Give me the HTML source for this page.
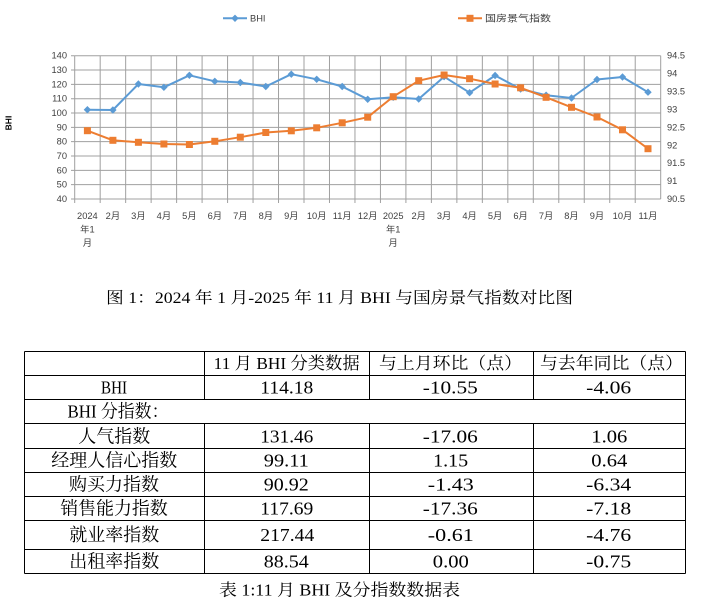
<!DOCTYPE html>
<html>
<head>
<meta charset="utf-8">
<style>
html,body{margin:0;padding:0;background:#fff;}
body{width:704px;height:610px;overflow:hidden;}
svg{display:block;}
.ax{font-family:"Liberation Sans","Noto Sans CJK SC",sans-serif;font-size:9.3px;fill:#404040;}
.tb{font-family:"Liberation Serif","Noto Serif CJK SC",serif;fill:#000;}
</style>
</head>
<body>
<svg width="704" height="610" viewBox="0 0 704 610" xmlns="http://www.w3.org/2000/svg">
<!-- Legend -->
<line x1="223" y1="18.3" x2="247" y2="18.3" stroke="#5b9bd5" stroke-width="2"/>
<polygon points="235,14.6 238.7,18.3 235,22 231.3,18.3" fill="#5b9bd5"/>
<text class="ax" x="250" y="18.3" dominant-baseline="central" font-size="9px">BHI</text>
<line x1="458" y1="18.3" x2="482" y2="18.3" stroke="#ed7d31" stroke-width="2"/>
<rect x="466.5" y="14.8" width="7" height="7" fill="#ed7d31"/>
<text class="ax" x="485" y="18.3" dominant-baseline="central" font-size="10.5px" textLength="66" lengthAdjust="spacingAndGlyphs">国房景气指数</text>

<!-- Y axis title -->
<text x="8.3" y="123" transform="rotate(-90 8.3 123)" text-anchor="middle" dominant-baseline="central" style="font-family:'Liberation Sans',sans-serif;font-size:8.5px;font-weight:bold;fill:#000;">BHI</text>

<!-- Grid -->
<g stroke="#a0a0a0" stroke-width="1" fill="none">
<path d="M74.7 55.7H660.7M74.7 70.03H660.7M74.7 84.36H660.7M74.7 98.69H660.7M74.7 113.02H660.7M74.7 127.35H660.7M74.7 141.68H660.7M74.7 156.01H660.7M74.7 170.34H660.7M74.7 184.67H660.7M74.7 199H660.7"/>
<path d="M74.7 55.7V203M100.18 55.7V203M125.66 55.7V203M151.13 55.7V203M176.61 55.7V203M202.09 55.7V203M227.57 55.7V203M253.05 55.7V203M278.52 55.7V203M304 55.7V203M329.48 55.7V203M354.96 55.7V203M380.44 55.7V203M405.91 55.7V203M431.39 55.7V203M456.87 55.7V203M482.35 55.7V203M507.83 55.7V203M533.3 55.7V203M558.78 55.7V203M584.26 55.7V203M609.74 55.7V203M635.22 55.7V203M660.7 55.7V199"/>
<path d="M71 55.7H74.7M71 70.03H74.7M71 84.36H74.7M71 98.69H74.7M71 113.02H74.7M71 127.35H74.7M71 141.68H74.7M71 156.01H74.7M71 170.34H74.7M71 184.67H74.7M71 199H74.7"/>
</g>

<!-- Left labels -->
<g class="ax" text-anchor="end" dominant-baseline="central">
<text x="67" y="55.7">140</text>
<text x="67" y="70.03">130</text>
<text x="67" y="84.36">120</text>
<text x="67" y="98.69">110</text>
<text x="67" y="113.02">100</text>
<text x="67" y="127.35">90</text>
<text x="67" y="141.68">80</text>
<text x="67" y="156.01">70</text>
<text x="67" y="170.34">60</text>
<text x="67" y="184.67">50</text>
<text x="67" y="199">40</text>
</g>
<!-- Right labels -->
<g class="ax" text-anchor="start" dominant-baseline="central">
<text x="667" y="55.7">94.5</text>
<text x="667" y="73.61">94</text>
<text x="667" y="91.53">93.5</text>
<text x="667" y="109.44">93</text>
<text x="667" y="127.35">92.5</text>
<text x="667" y="145.26">92</text>
<text x="667" y="163.18">91.5</text>
<text x="667" y="181.09">91</text>
<text x="667" y="199">90.5</text>
</g>

<!-- X labels -->
<g class="ax" text-anchor="middle" dominant-baseline="central">
<text x="87.4" y="216">2024</text><text x="87.4" y="229.5">年1</text><text x="87.4" y="243">月</text>
<text x="112.9" y="216">2月</text>
<text x="138.4" y="216">3月</text>
<text x="163.9" y="216">4月</text>
<text x="189.4" y="216">5月</text>
<text x="214.8" y="216">6月</text>
<text x="240.3" y="216">7月</text>
<text x="265.8" y="216">8月</text>
<text x="291.3" y="216">9月</text>
<text x="316.7" y="216">10月</text>
<text x="342.2" y="216">11月</text>
<text x="367.7" y="216">12月</text>
<text x="393.2" y="216">2025</text><text x="393.2" y="229.5">年1</text><text x="393.2" y="243">月</text>
<text x="418.7" y="216">2月</text>
<text x="444.1" y="216">3月</text>
<text x="469.6" y="216">4月</text>
<text x="495.1" y="216">5月</text>
<text x="520.6" y="216">6月</text>
<text x="546.1" y="216">7月</text>
<text x="571.5" y="216">8月</text>
<text x="597" y="216">9月</text>
<text x="622.5" y="216">10月</text>
<text x="648" y="216">11月</text>
</g>

<!-- BHI series -->
<polyline fill="none" stroke="#5b9bd5" stroke-width="2" stroke-linejoin="round" points="87.4,109.7 112.9,110 138.4,84 163.9,87.3 189.4,75.3 214.8,81.3 240.3,82.5 265.8,86.5 291.3,74.2 316.7,79.3 342.2,86.5 367.7,99.3 393.2,97.3 418.7,99 444.1,76.7 469.6,92.7 495.1,75.5 520.6,89 546.1,95.2 571.5,98 597,79.5 622.5,77 648,92.2"/>
<g fill="#5b9bd5">
<polygon points="87.4,106 91.1,109.7 87.4,113.4 83.7,109.7"/>
<polygon points="112.9,106.3 116.6,110 112.9,113.7 109.2,110"/>
<polygon points="138.4,80.3 142.1,84 138.4,87.7 134.7,84"/>
<polygon points="163.9,83.6 167.6,87.3 163.9,91 160.2,87.3"/>
<polygon points="189.4,71.6 193.1,75.3 189.4,79 185.7,75.3"/>
<polygon points="214.8,77.6 218.5,81.3 214.8,85 211.1,81.3"/>
<polygon points="240.3,78.8 244,82.5 240.3,86.2 236.6,82.5"/>
<polygon points="265.8,82.8 269.5,86.5 265.8,90.2 262.1,86.5"/>
<polygon points="291.3,70.5 295,74.2 291.3,77.9 287.6,74.2"/>
<polygon points="316.7,75.6 320.4,79.3 316.7,83 313,79.3"/>
<polygon points="342.2,82.8 345.9,86.5 342.2,90.2 338.5,86.5"/>
<polygon points="367.7,95.6 371.4,99.3 367.7,103 364,99.3"/>
<polygon points="393.2,93.6 396.9,97.3 393.2,101 389.5,97.3"/>
<polygon points="418.7,95.3 422.4,99 418.7,102.7 415,99"/>
<polygon points="444.1,73 447.8,76.7 444.1,80.4 440.4,76.7"/>
<polygon points="469.6,89 473.3,92.7 469.6,96.4 465.9,92.7"/>
<polygon points="495.1,71.8 498.8,75.5 495.1,79.2 491.4,75.5"/>
<polygon points="520.6,85.3 524.3,89 520.6,92.7 516.9,89"/>
<polygon points="546.1,91.5 549.8,95.2 546.1,98.9 542.4,95.2"/>
<polygon points="571.5,94.3 575.2,98 571.5,101.7 567.8,98"/>
<polygon points="597,75.8 600.7,79.5 597,83.2 593.3,79.5"/>
<polygon points="622.5,73.3 626.2,77 622.5,80.7 618.8,77"/>
<polygon points="648,88.5 651.7,92.2 648,95.9 644.3,92.2"/>
</g>

<!-- 国房景气指数 series -->
<polyline fill="none" stroke="#ed7d31" stroke-width="2" stroke-linejoin="round" points="87.4,130.7 112.9,140.3 138.4,142.3 163.9,144 189.4,144.5 214.8,141.3 240.3,137.2 265.8,132.5 291.3,130.8 316.7,127.8 342.2,122.8 367.7,117.2 393.2,96.7 418.7,80.7 444.1,75 469.6,78.7 495.1,84 520.6,87.8 546.1,97.3 571.5,107.3 597,117 622.5,129.8 648,148.7"/>
<g fill="#ed7d31">
<rect x="83.9" y="127.2" width="7" height="7"/>
<rect x="109.4" y="136.8" width="7" height="7"/>
<rect x="134.9" y="138.8" width="7" height="7"/>
<rect x="160.4" y="140.5" width="7" height="7"/>
<rect x="185.9" y="141" width="7" height="7"/>
<rect x="211.3" y="137.8" width="7" height="7"/>
<rect x="236.8" y="133.7" width="7" height="7"/>
<rect x="262.3" y="129" width="7" height="7"/>
<rect x="287.8" y="127.3" width="7" height="7"/>
<rect x="313.2" y="124.3" width="7" height="7"/>
<rect x="338.7" y="119.3" width="7" height="7"/>
<rect x="364.2" y="113.7" width="7" height="7"/>
<rect x="389.7" y="93.2" width="7" height="7"/>
<rect x="415.2" y="77.2" width="7" height="7"/>
<rect x="440.6" y="71.5" width="7" height="7"/>
<rect x="466.1" y="75.2" width="7" height="7"/>
<rect x="491.6" y="80.5" width="7" height="7"/>
<rect x="517.1" y="84.3" width="7" height="7"/>
<rect x="542.6" y="93.8" width="7" height="7"/>
<rect x="568" y="103.8" width="7" height="7"/>
<rect x="593.5" y="113.5" width="7" height="7"/>
<rect x="619" y="126.3" width="7" height="7"/>
<rect x="644.5" y="145.2" width="7" height="7"/>
</g>

<!-- Figure caption -->
<text class="tb" x="106" y="298.3" dominant-baseline="central" font-size="16px" textLength="467" lengthAdjust="spacingAndGlyphs">图 1：2024 年 1 月-2025 年 11 月 BHI 与国房景气指数对比图</text>

<!-- Table grid -->
<g stroke="#000" stroke-width="1" fill="none">
<path d="M24.5 351.5H685.5M24.5 375.5H685.5M24.5 399.5H685.5M24.5 423.5H685.5M24.5 448.5H685.5M24.5 472.5H685.5M24.5 496.5H685.5M24.5 520.5H685.5M24.5 549.5H685.5M24.5 573.5H685.5"/>
<path d="M24.5 351.5V573.5M685.5 351.5V573.5"/>
<path d="M204.5 351.5V399.5M369.5 351.5V399.5M533.5 351.5V399.5"/>
<path d="M204.5 423.5V573.5M369.5 423.5V573.5M533.5 423.5V573.5"/>
</g>

<!-- Table header -->
<g class="tb" dominant-baseline="central" font-size="17px">
<text x="286.7" y="363.6" text-anchor="middle" textLength="146" lengthAdjust="spacingAndGlyphs">11 月 BHI 分类数据</text>
<text x="379" y="363.6" textLength="143" lengthAdjust="spacingAndGlyphs">与上月环比（点）</text>
<text x="540" y="363.6" textLength="143" lengthAdjust="spacingAndGlyphs">与去年同比（点）</text>
</g>

<!-- Table body col 1 -->
<g class="tb" dominant-baseline="central" font-size="18px" text-anchor="middle">
<text x="114" y="387.4" textLength="26" lengthAdjust="spacingAndGlyphs">BHI</text>
<text x="114.3" y="436.3" textLength="72" lengthAdjust="spacingAndGlyphs">人气指数</text>
<text x="114.3" y="460.5" textLength="126" lengthAdjust="spacingAndGlyphs">经理人信心指数</text>
<text x="114" y="484.4" textLength="90" lengthAdjust="spacingAndGlyphs">购买力指数</text>
<text x="114" y="508.4" textLength="107.5" lengthAdjust="spacingAndGlyphs">销售能力指数</text>
<text x="114.3" y="535" textLength="90" lengthAdjust="spacingAndGlyphs">就业率指数</text>
<text x="114.3" y="561.3" textLength="90" lengthAdjust="spacingAndGlyphs">出租率指数</text>
</g>
<text class="tb" x="67.5" y="411.7" dominant-baseline="central" font-size="18px" textLength="101" lengthAdjust="spacingAndGlyphs">BHI 分指数：</text>

<!-- Table body col 2 -->
<g class="tb" dominant-baseline="central" font-size="18px" text-anchor="middle">
<text x="286.8" y="387.4" textLength="53" lengthAdjust="spacingAndGlyphs">114.18</text>
<text x="286.8" y="436.3" textLength="53" lengthAdjust="spacingAndGlyphs">131.46</text>
<text x="286.3" y="460.5" textLength="45" lengthAdjust="spacingAndGlyphs">99.11</text>
<text x="286.3" y="484.4" textLength="45" lengthAdjust="spacingAndGlyphs">90.92</text>
<text x="286.8" y="508.4" textLength="53" lengthAdjust="spacingAndGlyphs">117.69</text>
<text x="287.3" y="535" textLength="54" lengthAdjust="spacingAndGlyphs">217.44</text>
<text x="286.3" y="561.3" textLength="45" lengthAdjust="spacingAndGlyphs">88.54</text>
</g>

<!-- Table body col 3 -->
<g class="tb" dominant-baseline="central" font-size="18px" text-anchor="middle">
<text x="450.3" y="387.4" textLength="55" lengthAdjust="spacingAndGlyphs">-10.55</text>
<text x="450.3" y="436.3" textLength="55" lengthAdjust="spacingAndGlyphs">-17.06</text>
<text x="450.7" y="460.5" textLength="35" lengthAdjust="spacingAndGlyphs">1.15</text>
<text x="450.8" y="484.4" textLength="46" lengthAdjust="spacingAndGlyphs">-1.43</text>
<text x="450.3" y="508.4" textLength="55" lengthAdjust="spacingAndGlyphs">-17.36</text>
<text x="450.8" y="535" textLength="46" lengthAdjust="spacingAndGlyphs">-0.61</text>
<text x="450.8" y="561.3" textLength="36" lengthAdjust="spacingAndGlyphs">0.00</text>
</g>

<!-- Table body col 4 -->
<g class="tb" dominant-baseline="central" font-size="18px" text-anchor="middle">
<text x="608.7" y="387.4" textLength="45" lengthAdjust="spacingAndGlyphs">-4.06</text>
<text x="609.3" y="436.3" textLength="36" lengthAdjust="spacingAndGlyphs">1.06</text>
<text x="609.3" y="460.5" textLength="36" lengthAdjust="spacingAndGlyphs">0.64</text>
<text x="608.7" y="484.4" textLength="45" lengthAdjust="spacingAndGlyphs">-6.34</text>
<text x="608.7" y="508.4" textLength="45" lengthAdjust="spacingAndGlyphs">-7.18</text>
<text x="608.7" y="535" textLength="45" lengthAdjust="spacingAndGlyphs">-4.76</text>
<text x="608.7" y="561.3" textLength="45" lengthAdjust="spacingAndGlyphs">-0.75</text>
</g>

<!-- Table caption -->
<text class="tb" x="219" y="590" dominant-baseline="central" font-size="16.5px" textLength="241" lengthAdjust="spacingAndGlyphs">表 1:11 月 BHI 及分指数数据表</text>
</svg>
</body>
</html>
